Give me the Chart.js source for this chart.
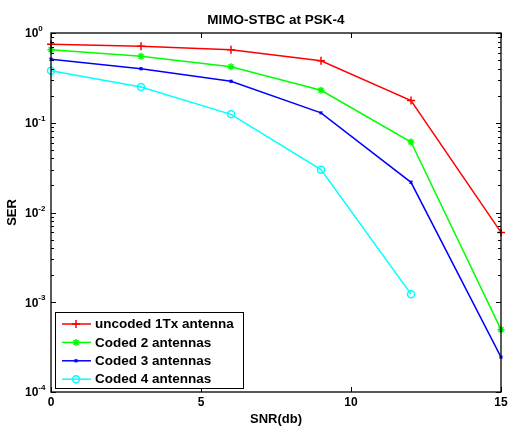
<!DOCTYPE html>
<html>
<head>
<meta charset="UTF-8">
<title>MIMO-STBC at PSK-4</title>
<script src="https://cdn.jsdelivr.net/npm/chart.js"></script>
<style>
  html, body { margin: 0; padding: 0; background: #fff; }
  canvas { display: block; }
</style>
</head>
<body>
<canvas id="serChart" width="508" height="427"></canvas>
<script>
// values
const snr = [0, 3, 6, 9, 12, 15];
const serUncoded = [0.75, 0.71, 0.65, 0.49, 0.177, 0.006];
const serCoded2 = [0.65, 0.55, 0.42, 0.23, 0.061, 0.000495];
const serCoded3 = [0.51, 0.40, 0.29, 0.129, 0.0217, 0.000245];
const serCoded4 = [0.38, 0.25, 0.124, 0.030, 0.00123];
const xTicks = [0, 5, 10, 15];
const yExponents = [0, -1, -2, -3, -4];
const seriesLabels = ['uncoded 1Tx antenna', 'Coded 2 antennas', 'Coded 3 antennas', 'Coded 4 antennas'];

const FONT = 'Liberation Sans, Arial, sans-serif';

function pts(ys) {
  return ys.map((y, i) => ({ x: snr[i], y: y }));
}

function ds(label, ys, color, style, radius) {
  return {
    label: label,
    data: pts(ys),
    borderColor: color,
    backgroundColor: 'transparent',
    borderWidth: 1.5,
    pointStyle: style,
    pointRadius: radius,
    pointBorderColor: color,
    pointBackgroundColor: 'transparent',
    pointBorderWidth: 1.5,
    tension: 0,
    clip: false
  };
}

// axes, ticks, labels and legend, MATLAB style
const matlabAxes = {
  id: 'matlabAxes',
  afterDraw(chart) {
    const ctx = chart.ctx;
    const a = chart.chartArea;
    const xs = chart.scales.x, ys = chart.scales.y;
    ctx.save();
    ctx.strokeStyle = '#000';
    ctx.fillStyle = '#000';

    // box
    ctx.lineWidth = 1.3;
    ctx.strokeRect(a.left, a.top, a.right - a.left, a.bottom - a.top);

    // x ticks
    ctx.lineWidth = 1;
    ctx.beginPath();
    xTicks.forEach(v => {
      const px = Math.round(xs.getPixelForValue(v)) + 0.5;
      ctx.moveTo(px, a.bottom); ctx.lineTo(px, a.bottom - 5);
      ctx.moveTo(px, a.top); ctx.lineTo(px, a.top + 5);
    });
    // y ticks, major + minor
    yExponents.forEach(e => {
      for (let m = 1; m <= 9; m++) {
        if (e === -4 && m > 1) continue;
        const v = m * Math.pow(10, e);
        if (v > 1) continue;
        const py = Math.round(ys.getPixelForValue(v)) + 0.5;
        const len = m === 1 ? 5 : 3;
        ctx.moveTo(a.left, py); ctx.lineTo(a.left + len, py);
        ctx.moveTo(a.right, py); ctx.lineTo(a.right - len, py);
      }
    });
    ctx.stroke();

    // x tick labels
    ctx.font = 'bold 12px ' + FONT;
    ctx.textAlign = 'center';
    ctx.textBaseline = 'middle';
    xTicks.forEach(v => {
      ctx.fillText(String(v), xs.getPixelForValue(v), 403);
    });

    // y tick labels 10^e
    yExponents.forEach(e => {
      const py = ys.getPixelForValue(Math.pow(10, e));
      ctx.textAlign = 'left';
      ctx.textBaseline = 'middle';
      ctx.font = 'bold 12px ' + FONT;
      const bw = ctx.measureText('10').width;
      ctx.fillText('10', 25, py + 1);
      ctx.font = 'bold 8px ' + FONT;
      ctx.fillText(String(e), 25 + bw, py - 4);
    });

    // title and axis labels
    ctx.textAlign = 'center';
    ctx.textBaseline = 'middle';
    const cx = (a.left + a.right) / 2;
    ctx.font = 'bold 13.5px ' + FONT;
    ctx.fillText('MIMO-STBC at PSK-4', cx, 20);
    ctx.font = 'bold 13px ' + FONT;
    ctx.fillText('SNR(db)', cx, 419);
    ctx.save();
    ctx.translate(12, (a.top + a.bottom) / 2);
    ctx.rotate(-Math.PI / 2);
    ctx.fillText('SER', 0, 0);
    ctx.restore();

    // legend
    const lx = 55.5, ly = 312.5, lw = 188, lh = 76;
    ctx.fillStyle = '#fff';
    ctx.fillRect(lx, ly, lw, lh);
    ctx.lineWidth = 1;
    ctx.strokeStyle = '#000';
    ctx.strokeRect(lx, ly, lw, lh);
    chart.data.datasets.forEach((d, i) => {
      const y = 324 + i * 18.4;
      ctx.strokeStyle = d.borderColor;
      ctx.fillStyle = 'rgba(0,0,0,0)';
      ctx.lineWidth = 1.5;
      ctx.beginPath();
      ctx.moveTo(62, y); ctx.lineTo(91, y);
      ctx.stroke();
      Chart.helpers.drawPoint(ctx, {
        pointStyle: d.pointStyle, radius: d.pointRadius, borderWidth: 1.5, rotation: 0
      }, 76, y);
      ctx.fillStyle = '#000';
      ctx.font = 'bold 13.5px ' + FONT;
      ctx.textAlign = 'left';
      ctx.textBaseline = 'middle';
      ctx.fillText(d.label, 95, y + 0.5);
    });
    ctx.restore();
  }
};

new Chart(document.getElementById('serChart'), {
  type: 'line',
  data: {
    datasets: [
      ds(seriesLabels[0], serUncoded, '#ff0000', 'cross', 4),
      ds(seriesLabels[1], serCoded2, '#00ff00', 'star', 3.5),
      ds(seriesLabels[2], serCoded3, '#0000ff', 'crossRot', 2),
      ds(seriesLabels[3], serCoded4, '#00ffff', 'circle', 3.5)
    ]
  },
  options: {
    responsive: false,
    animation: false,
    layout: { padding: { left: 51, right: 7, top: 33, bottom: 35 } },
    plugins: { legend: { display: false }, tooltip: { enabled: false } },
    scales: {
      x: { type: 'linear', min: 0, max: 15, display: false },
      y: { type: 'logarithmic', min: 1e-4, max: 1, display: false }
    }
  },
  plugins: [matlabAxes]
});
</script>
</body>
</html>
